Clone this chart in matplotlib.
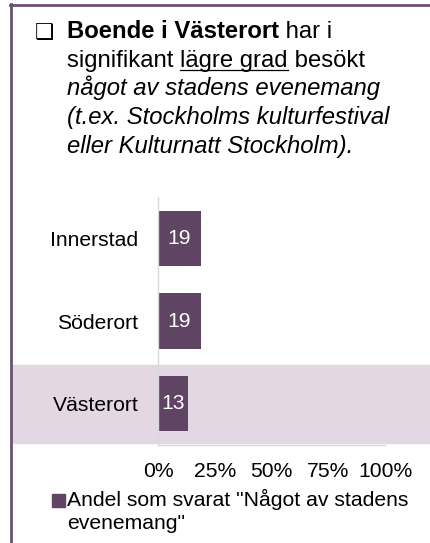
import matplotlib
matplotlib.use("Agg")
import matplotlib.pyplot as plt
from matplotlib.lines import Line2D
from matplotlib.patches import Rectangle

# data
categories = ["Innerstad", "Söderort", "Västerort"]
values = [19, 19, 13]
xticks = [0, 25, 50, 75, 100]
xtick_labels = ["0%", "25%", "50%", "75%", "100%"]
highlight = "Västerort"
legend_label = 'Andel som svarat "Något av stadens\nevenemang"'

bar_color = "#5f4563"
frame_color = "#6b5272"
band_color = "#e2d7e3"
axis_color = "#d9d9d9"
fs_title = 17.2
fs = 15.2

plt.rcParams['font.family'] = ['Liberation Sans', 'DejaVu Sans']

W, H = 430, 543
fig = plt.figure(figsize=(W / 100, H / 100), dpi=100)


def fx(px):
    return px / W


def fy(py):
    return 1 - py / H


# purple frame (left + top)
fig.add_artist(Line2D([fx(11), fx(11)], [fy(4), 0], color=frame_color, lw=2))
fig.add_artist(Line2D([fx(10), 1], [fy(5), fy(5)], color=frame_color, lw=2))

# heading, drawn run by run
renderer = fig.canvas.get_renderer()


def text_width(s, **kw):
    t = fig.text(0, 0, s, **kw)
    w = t.get_window_extent(renderer).width
    t.remove()
    return w


def draw_runs(x, base, runs):
    for txt, weight, style, under in runs:
        t = fig.text(fx(x), fy(base), txt, fontsize=fs_title, fontweight=weight,
                     fontstyle=style, va='baseline', ha='left')
        w = t.get_window_extent(renderer).width
        if under:
            lead = len(txt) - len(txt.lstrip())
            off = text_width(txt[:lead], fontsize=fs_title) if lead else 0
            wid = text_width(txt.strip(), fontsize=fs_title)
            fig.add_artist(Line2D([fx(x + off), fx(x + off + wid)],
                                  [fy(base + 3), fy(base + 3)],
                                  color='black', lw=0.9))
        x += w


fig.text(fx(35), fy(39.5), "\u2751", fontsize=15.5, va='baseline', ha='left',
         family=['DejaVu Sans'])
draw_runs(67, 38.5, [("Boende i Västerort", 'bold', 'normal', False),
                     (" har i", 'normal', 'normal', False)])
draw_runs(67, 67, [("signifikant ", 'normal', 'normal', False),
                   ("lägre grad", 'normal', 'normal', True),
                   (" besökt", 'normal', 'normal', False)])
draw_runs(67, 95.5, [("något av stadens evenemang", 'normal', 'italic', False)])
draw_runs(67, 124, [("(t.ex. Stockholms kulturfestival", 'normal', 'italic', False)])
draw_runs(67, 152.5, [("eller Kulturnatt Stockholm).", 'normal', 'italic', False)])

# bar chart
ax = fig.add_axes([fx(158), fy(445), (385 - 158) / W, (445 - 197) / H])
ax.set_facecolor('none')
ypos = list(range(len(categories)))
bars = ax.barh(ypos, values, height=0.667, color=bar_color, zorder=2)
ax.bar_label(bars, labels=[str(v) for v in values], label_type='center',
             color='white', fontsize=fs)

hi = categories.index(highlight)
ax.axhspan(hi - 0.47, hi + 0.47, xmin=-0.643, xmax=1.2, color=band_color,
           clip_on=False, zorder=0)

ax.set_xlim(0, 100)
ax.set_ylim(len(categories) - 0.5, -0.5)
ax.set_xticks(xticks)
ax.set_xticklabels(xtick_labels)
ax.set_yticks(ypos)
ax.set_yticklabels(categories)
ax.tick_params(axis='both', length=0, labelsize=fs, colors='black')
ax.tick_params(axis='x', pad=12)
ax.tick_params(axis='y', pad=14)
for s in ['top', 'right']:
    ax.spines[s].set_visible(False)
for s in ['left', 'bottom']:
    ax.spines[s].set_color(axis_color)
    ax.spines[s].set_linewidth(1)

# legend (manual)
fig.add_artist(Rectangle((fx(52), fy(506.5)), 13 / W, 13 / H, color=bar_color,
                         transform=fig.transFigure))
leg_lines = legend_label.split("\n")
fig.text(fx(67), fy(506), leg_lines[0], fontsize=fs, va='baseline', ha='left')
fig.text(fx(67), fy(529), leg_lines[1], fontsize=fs, va='baseline', ha='left')

fig.savefig("out.png", dpi=100)
